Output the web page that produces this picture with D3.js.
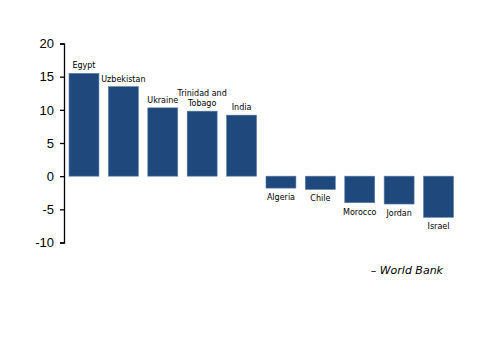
<!DOCTYPE html>
<html>
<head>
<meta charset="utf-8">
<script src="https://cdn.jsdelivr.net/npm/d3@7"></script>
<style>
  body { margin: 0; background: #fff; }
  .tick text { font-family: "Liberation Sans", Arial, sans-serif; font-size: 13px; fill: #000; }
  .bar-label { font-family: "DejaVu Sans", Verdana, sans-serif; font-size: 8px; fill: #000; }
  .source { font-family: "DejaVu Sans", Verdana, sans-serif; font-size: 11px; font-style: italic; fill: #000; }
</style>
</head>
<body>
<div id="chart"></div>
<script>
// countries and values
const countries = ["Egypt", "Uzbekistan", "Ukraine", "Trinidad and Tobago", "India",
                   "Algeria", "Chile", "Morocco", "Jordan", "Israel"];
const values = [15.5, 13.5, 10.3, 9.8, 9.2, -1.8, -2.0, -4.0, -4.2, -6.2];
const yTicks = [-10, -5, 0, 5, 10, 15, 20];
const sourceText = "\u2013 World Bank";

const data = countries.map((c, i) => ({ name: c, value: values[i] }));

const width = 500, height = 353;

const svg = d3.select("#chart").append("svg")
  .attr("width", width)
  .attr("height", height);

const x = d3.scaleBand()
  .domain(countries)
  .range([64, 458.5])
  .paddingInner(0.24)
  .paddingOuter(0.127);

const y = d3.scaleLinear()
  .domain([-10, 20])
  .range([242.5, 43.5]);

// y axis, plain hyphen for negatives like the original
const yAxis = d3.axisLeft(y)
  .tickValues(yTicks)
  .tickFormat(d => String(d))
  .tickSize(4)
  .tickPadding(6);

svg.append("g")
  .attr("class", "y-axis")
  .attr("transform", "translate(64,0)")
  .call(yAxis)
  .call(g => g.select(".domain").attr("stroke", "#000").attr("stroke-width", 1.3))
  .call(g => g.selectAll(".tick line").attr("stroke", "#000").attr("stroke-width", 1.3));

// bars
svg.selectAll(".bar")
  .data(data)
  .enter()
  .append("rect")
  .attr("class", "bar")
  .attr("x", d => x(d.name))
  .attr("width", x.bandwidth())
  .attr("y", d => y(Math.max(0, d.value)))
  .attr("height", d => Math.abs(y(d.value) - y(0)))
  .attr("fill", "#1f497d")
  .attr("stroke", "#5a7aa8")
  .attr("stroke-width", 0.6);

// bar labels
const labels = svg.selectAll(".bar-label")
  .data(data)
  .enter()
  .append("text")
  .attr("class", "bar-label")
  .attr("text-anchor", "middle")
  .attr("x", d => x(d.name) + x.bandwidth() / 2);

labels.each(function(d) {
  let t = d3.select(this);
  let lines = d.name == "Trinidad and Tobago" ? ["Trinidad and", "Tobago"] : [d.name];
  let base;
  if (d.value >= 0) {
    base = y(d.value) - 5 - (lines.length - 1) * 10;
  } else {
    base = y(d.value) + 12;
  }
  lines.forEach((l, i) => {
    t.append("tspan")
      .attr("x", x(d.name) + x.bandwidth() / 2)
      .attr("y", base + i * 10)
      .text(l);
  });
});

// source
svg.append("text")
  .attr("class", "source")
  .attr("x", 443)
  .attr("y", 274)
  .attr("text-anchor", "end")
  .text(sourceText);
</script>
</body>
</html>
